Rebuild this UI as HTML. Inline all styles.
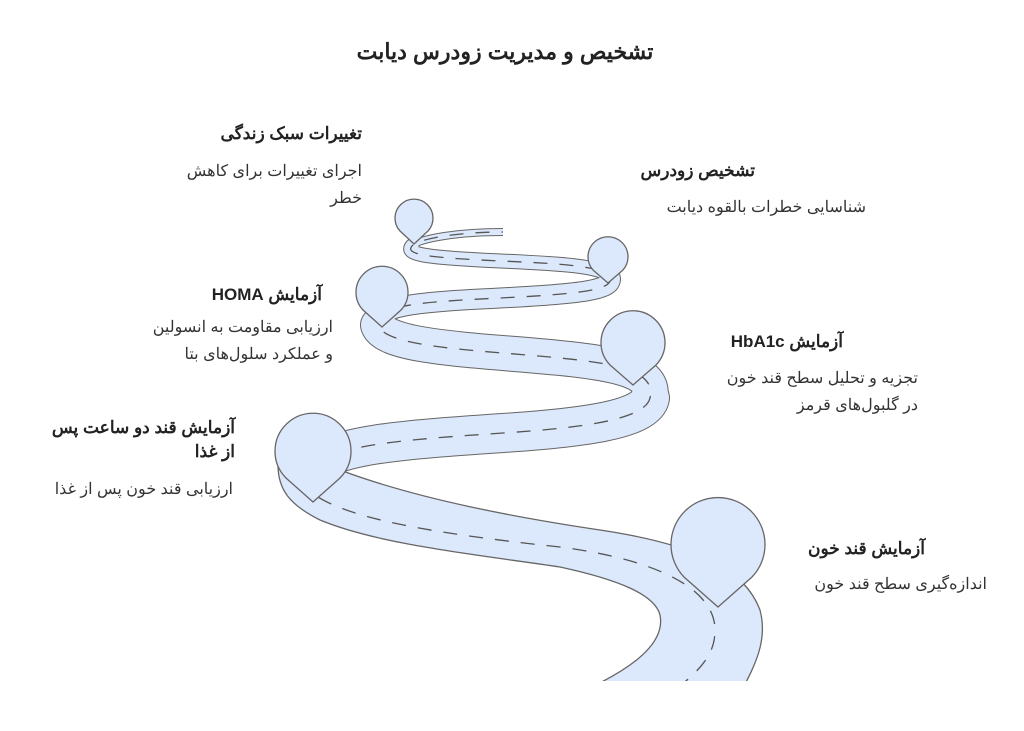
<!DOCTYPE html>
<html><head><meta charset="utf-8"><style>
body{margin:0;background:#fff;width:1024px;height:731px;overflow:hidden;position:relative;font-family:"Liberation Sans","Noto Sans CJK SC",sans-serif;color:#333}
.t{position:absolute;direction:rtl;text-align:right;font-size:16px;line-height:27px}
.h{font-weight:bold;font-size:17px;color:#222;line-height:24px}
</style></head><body>
<div class="t h" style="left:300px;top:38px;width:410px;text-align:center;font-size:22px;line-height:28px">تشخیص و مدیریت زودرس دیابت</div>
<svg width="1024" height="731" style="position:absolute;left:0;top:0">
<defs><clipPath id="c"><rect x="0" y="0" width="1024" height="681"/></clipPath></defs>
<g fill="none" stroke-linecap="round" clip-path="url(#c)">
<g stroke="#666">
<path d="M315 468 C330 445 400 440 503 433 C580 428 645 420 650 398" stroke-width="40"/>
<path d="M650 398 C656 372 620 364 560 358 C480 350 385 348 378 325" stroke-width="36"/>
<path d="M378 325 C374 305 420 302 500 298 C580 294 615 290 610 277" stroke-width="21"/>
<path d="M610 277 C603 264 540 263 480 260 C425 257 405 254 412 246" stroke-width="15"/>
<path d="M412 246 C420 238 460 232 503 232" stroke-width="8" stroke-linecap="butt"/>
</g>
<g stroke="#dce8fb">
<path d="M315 468 C330 445 400 440 503 433 C580 428 645 420 650 398" stroke-width="38"/>
<path d="M650 398 C656 372 620 364 560 358 C480 350 385 348 378 325" stroke-width="34"/>
<path d="M378 325 C374 305 420 302 500 298 C580 294 615 290 610 277" stroke-width="19"/>
<path d="M610 277 C603 264 540 263 480 260 C425 257 405 254 412 246" stroke-width="13"/>
<path d="M412 246 C420 238 460 232 503 232" stroke-width="6" stroke-linecap="butt"/>
</g>
<path fill="#dce8fb" stroke="#666" stroke-width="1.3" d="M340 470 C420 500 520 518 600 530 C700 545 745 570 760 610 C768 640 755 665 742 690 L585 690 C640 665 665 640 660 615 C655 595 620 580 560 567 C480 555 380 545 320 520 C290 505 278 490 278 465 Z"/>
<path stroke="#555" stroke-width="1.3" stroke-linecap="butt" stroke-dasharray="14 12" d="M300 480 C320 515 420 532 560 547 C660 560 715 590 715 630 C715 655 700 670 675 690"/>
<path stroke="#555" stroke-width="1.3" stroke-linecap="butt" stroke-dasharray="14 12" d="M315 468 C330 445 400 440 503 433 C580 428 645 420 650 398 C656 372 620 364 560 358 C480 350 385 348 378 325 C374 305 420 302 500 298 C580 294 615 290 610 277 C603 264 540 263 480 260 C425 257 405 254 412 246 C420 238 460 232 503 232"/>
</g>
<g fill="#dce8fb" stroke="#666" stroke-width="1.3">
<path d="M718 607 L684 577 A47 47 0 1 1 752 577 Z"/>
<path d="M313 502 L286 478 A38 38 0 1 1 340 478 Z"/>
<path d="M633 385 L610 365 A32 32 0 1 1 656 365 Z"/>
<path d="M382 327 L363 310 A26 26 0 1 1 401 310 Z"/>
<path d="M608 283 L593 270 A20 20 0 1 1 623 270 Z"/>
<path d="M414 244 L400 231 A19 19 0 1 1 428 231 Z"/>
</g>
</svg>
<div class="t h" style="left:162px;top:122px;width:200px">تغییرات سبک زندگی</div>
<div class="t" style="left:160px;top:158px;width:202px">اجرای تغییرات برای کاهش خطر</div>
<div class="t h" style="left:555px;top:159px;width:200px">تشخیص زودرس</div>
<div class="t" style="left:600px;top:194px;width:266px">شناسایی خطرات بالقوه دیابت</div>
<div class="t h" style="left:120px;top:283px;width:202px">آزمایش HOMA</div>
<div class="t" style="left:148px;top:314px;width:185px">ارزیابی مقاومت به انسولین و عملکرد سلول‌های بتا</div>
<div class="t h" style="left:643px;top:330px;width:200px">آزمایش HbA1c</div>
<div class="t" style="left:710px;top:365px;width:208px">تجزیه و تحلیل سطح قند خون در گلبول‌های قرمز</div>
<div class="t h" style="left:40px;top:416px;width:195px">آزمایش قند دو ساعت پس از غذا</div>
<div class="t" style="left:20px;top:476px;width:213px">ارزیابی قند خون پس از غذا</div>
<div class="t h" style="left:725px;top:537px;width:200px">آزمایش قند خون</div>
<div class="t" style="left:700px;top:571px;width:287px">اندازه‌گیری سطح قند خون</div>
</body></html>
